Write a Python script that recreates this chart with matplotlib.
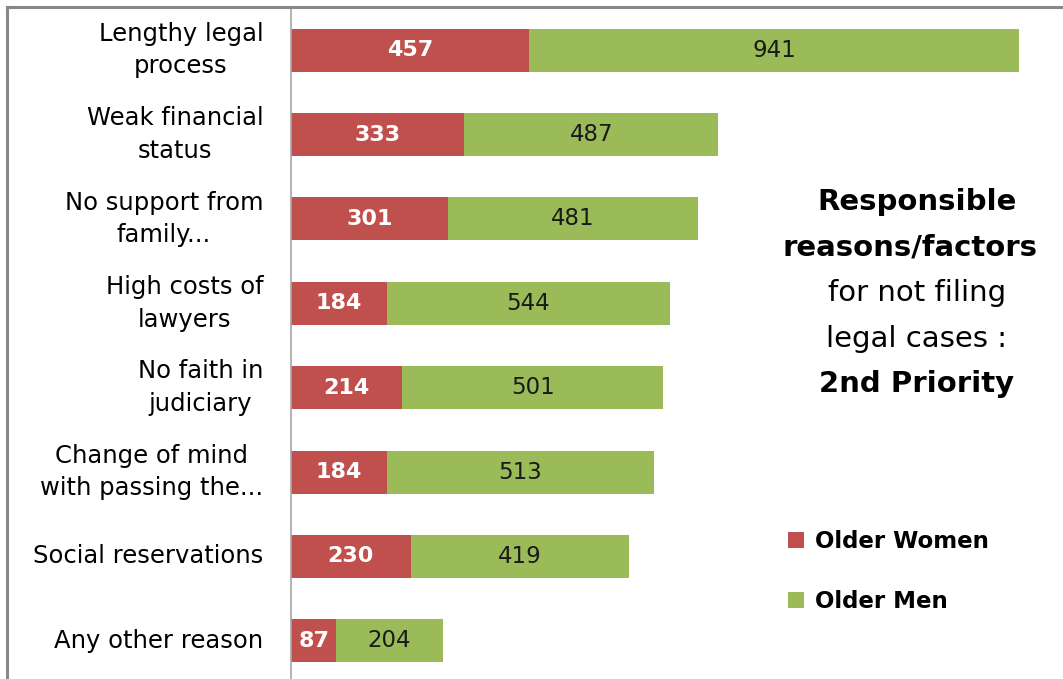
import matplotlib.pyplot as plt
import numpy as np

# data (top to bottom)
reasons = ["Lengthy legal\nprocess", "Weak financial\nstatus", "No support from\nfamily...",
           "High costs of\nlawyers", "No faith in\njudiciary", "Change of mind\nwith passing the...",
           "Social reservations", "Any other reason"]
women = [457, 333, 301, 184, 214, 184, 230, 87]
men = [941, 487, 481, 544, 501, 513, 419, 204]

red = "#C0504D"
green = "#9BBB59"
plt.rcParams['font.family'] = ['DejaVu Sans']

fig = plt.figure(figsize=(10.63, 6.79), dpi=100)
W, H = 1063, 679
ax = fig.add_axes([291 / W, -4 / H, (W - 291) / W, (683 - 8) / H])

y = np.arange(len(reasons))
ax.barh(y, women, height=0.51, color=red, label="Older Women")
ax.barh(y, men, left=women, height=0.51, color=green, label="Older Men")

for i in range(len(reasons)):
    ax.text(women[i] / 2, y[i], str(women[i]), ha="center", va="center",
            color="white", fontsize=16, fontweight="bold")
    ax.text(women[i] + men[i] / 2, y[i], str(men[i]), ha="center", va="center",
            color="#1a1a1a", fontsize=16.5)

ax.set_ylim(len(reasons) - 0.5, -0.5)
ax.set_xlim(0, (W - 291) / 0.5208)
ax.set_yticks(y)
ax.set_yticklabels(reasons, fontsize=17.5, multialignment="center", linespacing=1.45,
                   va="center")
ax.tick_params(axis="y", length=0, pad=20)
ax.set_xticks([])
for s in ["top", "right", "bottom"]:
    ax.spines[s].set_visible(False)
ax.spines["left"].set_color("#a6a6a6")
ax.spines["left"].set_linewidth(1.2)

# title text on the right
fig.text(917 / W, 1 - 202 / H, "Responsible", ha="center", va="center",
         fontsize=21, fontweight="bold")
fig.text(910 / W, 1 - 248 / H, "reasons/factors", ha="center", va="center",
         fontsize=21, fontweight="bold")
fig.text(917 / W, 1 - 293 / H, "for not filing", ha="center", va="center", fontsize=21)
fig.text(917 / W, 1 - 339 / H, "legal cases :", ha="center", va="center", fontsize=21)
fig.text(917 / W, 1 - 384 / H, "2nd Priority", ha="center", va="center",
         fontsize=21, fontweight="bold")

leg = fig.legend(loc="upper left", bbox_to_anchor=(767 / W, 1 - 509 / H), frameon=False,
                 prop={"size": 16.5, "weight": "bold"}, handlelength=0.7, handleheight=0.7,
                 handletextpad=0.5, labelspacing=1.65)

# grey border at top and left
fig.add_artist(plt.Line2D([7 / W, 7 / W], [0, 1 - 7 / H], color="#888888", lw=2.2))
fig.add_artist(plt.Line2D([7 / W, 1], [1 - 7 / H, 1 - 7 / H], color="#888888", lw=2.2))

fig.savefig("out.png", dpi=100)
